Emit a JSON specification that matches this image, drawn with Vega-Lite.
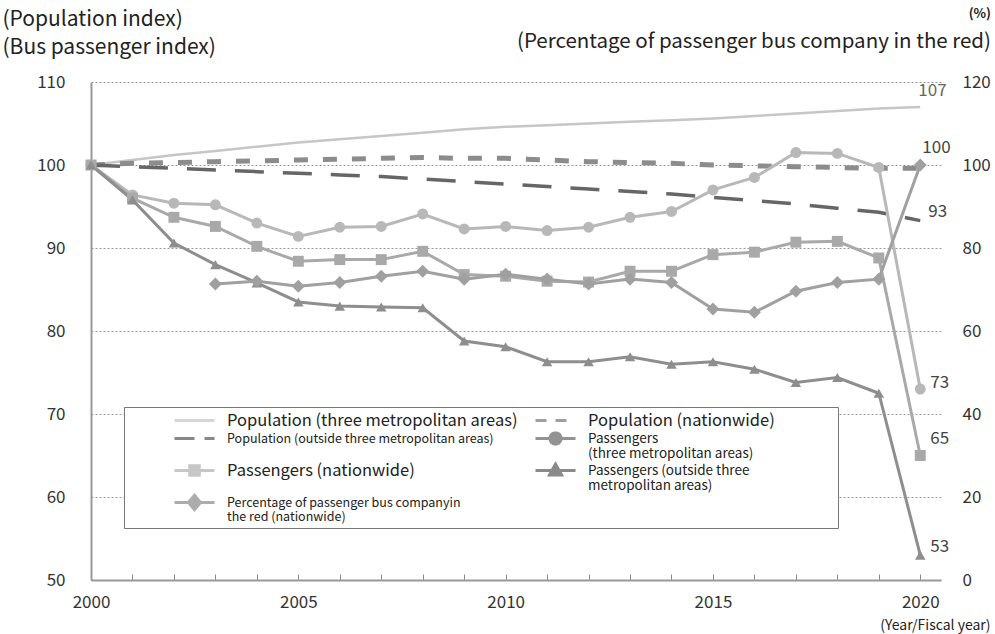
{
  "$schema": "https://vega.github.io/schema/vega-lite/v6.json",
  "width": 850,
  "height": 498,
  "autosize": {"type": "none"},
  "padding": {"left": 91, "top": 82, "right": 54, "bottom": 54},
  "background": "white",
  "config": {
    "font": "Noto Sans CJK JP",
    "view": {"stroke": null},
    "axis": {"labelFont": "Noto Sans CJK JP", "titleFont": "Noto Sans CJK JP", "labelColor": "#333", "titleColor": "#222", "labelFontSize": 17, "titleFontWeight": "normal"},
    "legend": {"labelFont": "Noto Sans CJK JP", "symbolFillColor": "#999999"}
  },
  "title": {
    "text": "(%)",
    "subtitle": "(Percentage of passenger bus company in the red)",
    "anchor": "end",
    "frame": "group",
    "fontSize": 13,
    "fontWeight": "bold",
    "font": "Noto Sans CJK JP",
    "subtitleFont": "Noto Sans CJK JP",
    "subtitleFontSize": 20.5,
    "color": "#222",
    "subtitleColor": "#222",
    "subtitlePadding": 11,
    "dx": 50,
    "dy": 48,
    "offset": 4
  },
  "datasets": {
    "main": [
      {"year": 2000, "series": "Population (three metropolitan areas)", "value": 100},
      {"year": 2001, "series": "Population (three metropolitan areas)", "value": 100.6},
      {"year": 2002, "series": "Population (three metropolitan areas)", "value": 101.2},
      {"year": 2003, "series": "Population (three metropolitan areas)", "value": 101.7},
      {"year": 2004, "series": "Population (three metropolitan areas)", "value": 102.2},
      {"year": 2005, "series": "Population (three metropolitan areas)", "value": 102.7},
      {"year": 2006, "series": "Population (three metropolitan areas)", "value": 103.1},
      {"year": 2007, "series": "Population (three metropolitan areas)", "value": 103.5},
      {"year": 2008, "series": "Population (three metropolitan areas)", "value": 103.9},
      {"year": 2009, "series": "Population (three metropolitan areas)", "value": 104.3},
      {"year": 2010, "series": "Population (three metropolitan areas)", "value": 104.6},
      {"year": 2011, "series": "Population (three metropolitan areas)", "value": 104.8},
      {"year": 2012, "series": "Population (three metropolitan areas)", "value": 105.0},
      {"year": 2013, "series": "Population (three metropolitan areas)", "value": 105.2},
      {"year": 2014, "series": "Population (three metropolitan areas)", "value": 105.4},
      {"year": 2015, "series": "Population (three metropolitan areas)", "value": 105.6},
      {"year": 2016, "series": "Population (three metropolitan areas)", "value": 105.9},
      {"year": 2017, "series": "Population (three metropolitan areas)", "value": 106.2},
      {"year": 2018, "series": "Population (three metropolitan areas)", "value": 106.5},
      {"year": 2019, "series": "Population (three metropolitan areas)", "value": 106.8},
      {"year": 2020, "series": "Population (three metropolitan areas)", "value": 107.0},
      {"year": 2000, "series": "Population (nationwide)", "value": 100},
      {"year": 2001, "series": "Population (nationwide)", "value": 100.2},
      {"year": 2002, "series": "Population (nationwide)", "value": 100.3},
      {"year": 2003, "series": "Population (nationwide)", "value": 100.4},
      {"year": 2004, "series": "Population (nationwide)", "value": 100.5},
      {"year": 2005, "series": "Population (nationwide)", "value": 100.6},
      {"year": 2006, "series": "Population (nationwide)", "value": 100.7},
      {"year": 2007, "series": "Population (nationwide)", "value": 100.8},
      {"year": 2008, "series": "Population (nationwide)", "value": 100.9},
      {"year": 2009, "series": "Population (nationwide)", "value": 100.8},
      {"year": 2010, "series": "Population (nationwide)", "value": 100.8},
      {"year": 2011, "series": "Population (nationwide)", "value": 100.6},
      {"year": 2012, "series": "Population (nationwide)", "value": 100.4},
      {"year": 2013, "series": "Population (nationwide)", "value": 100.3},
      {"year": 2014, "series": "Population (nationwide)", "value": 100.2},
      {"year": 2015, "series": "Population (nationwide)", "value": 100.0},
      {"year": 2016, "series": "Population (nationwide)", "value": 99.9},
      {"year": 2017, "series": "Population (nationwide)", "value": 99.8},
      {"year": 2018, "series": "Population (nationwide)", "value": 99.7},
      {"year": 2019, "series": "Population (nationwide)", "value": 99.6},
      {"year": 2020, "series": "Population (nationwide)", "value": 99.6},
      {"year": 2000, "series": "Population (outside three metropolitan areas)", "value": 100},
      {"year": 2001, "series": "Population (outside three metropolitan areas)", "value": 99.8},
      {"year": 2002, "series": "Population (outside three metropolitan areas)", "value": 99.6},
      {"year": 2003, "series": "Population (outside three metropolitan areas)", "value": 99.4},
      {"year": 2004, "series": "Population (outside three metropolitan areas)", "value": 99.2},
      {"year": 2005, "series": "Population (outside three metropolitan areas)", "value": 99.0},
      {"year": 2006, "series": "Population (outside three metropolitan areas)", "value": 98.8},
      {"year": 2007, "series": "Population (outside three metropolitan areas)", "value": 98.6},
      {"year": 2008, "series": "Population (outside three metropolitan areas)", "value": 98.3},
      {"year": 2009, "series": "Population (outside three metropolitan areas)", "value": 98.0},
      {"year": 2010, "series": "Population (outside three metropolitan areas)", "value": 97.7},
      {"year": 2011, "series": "Population (outside three metropolitan areas)", "value": 97.4},
      {"year": 2012, "series": "Population (outside three metropolitan areas)", "value": 97.1},
      {"year": 2013, "series": "Population (outside three metropolitan areas)", "value": 96.8},
      {"year": 2014, "series": "Population (outside three metropolitan areas)", "value": 96.5},
      {"year": 2015, "series": "Population (outside three metropolitan areas)", "value": 96.1},
      {"year": 2016, "series": "Population (outside three metropolitan areas)", "value": 95.7},
      {"year": 2017, "series": "Population (outside three metropolitan areas)", "value": 95.3},
      {"year": 2018, "series": "Population (outside three metropolitan areas)", "value": 94.8},
      {"year": 2019, "series": "Population (outside three metropolitan areas)", "value": 94.3},
      {"year": 2020, "series": "Population (outside three metropolitan areas)", "value": 93.3},
      {"year": 2000, "series": "Passengers (three metropolitan areas)", "value": 100},
      {"year": 2001, "series": "Passengers (three metropolitan areas)", "value": 96.4},
      {"year": 2002, "series": "Passengers (three metropolitan areas)", "value": 95.4},
      {"year": 2003, "series": "Passengers (three metropolitan areas)", "value": 95.2},
      {"year": 2004, "series": "Passengers (three metropolitan areas)", "value": 93.0},
      {"year": 2005, "series": "Passengers (three metropolitan areas)", "value": 91.4},
      {"year": 2006, "series": "Passengers (three metropolitan areas)", "value": 92.5},
      {"year": 2007, "series": "Passengers (three metropolitan areas)", "value": 92.6},
      {"year": 2008, "series": "Passengers (three metropolitan areas)", "value": 94.1},
      {"year": 2009, "series": "Passengers (three metropolitan areas)", "value": 92.3},
      {"year": 2010, "series": "Passengers (three metropolitan areas)", "value": 92.6},
      {"year": 2011, "series": "Passengers (three metropolitan areas)", "value": 92.1},
      {"year": 2012, "series": "Passengers (three metropolitan areas)", "value": 92.5},
      {"year": 2013, "series": "Passengers (three metropolitan areas)", "value": 93.7},
      {"year": 2014, "series": "Passengers (three metropolitan areas)", "value": 94.4},
      {"year": 2015, "series": "Passengers (three metropolitan areas)", "value": 97.0},
      {"year": 2016, "series": "Passengers (three metropolitan areas)", "value": 98.5},
      {"year": 2017, "series": "Passengers (three metropolitan areas)", "value": 101.5},
      {"year": 2018, "series": "Passengers (three metropolitan areas)", "value": 101.4},
      {"year": 2019, "series": "Passengers (three metropolitan areas)", "value": 99.7},
      {"year": 2020, "series": "Passengers (three metropolitan areas)", "value": 73},
      {"year": 2000, "series": "Passengers (nationwide)", "value": 100},
      {"year": 2001, "series": "Passengers (nationwide)", "value": 96.0},
      {"year": 2002, "series": "Passengers (nationwide)", "value": 93.7},
      {"year": 2003, "series": "Passengers (nationwide)", "value": 92.6},
      {"year": 2004, "series": "Passengers (nationwide)", "value": 90.2},
      {"year": 2005, "series": "Passengers (nationwide)", "value": 88.4},
      {"year": 2006, "series": "Passengers (nationwide)", "value": 88.6},
      {"year": 2007, "series": "Passengers (nationwide)", "value": 88.6},
      {"year": 2008, "series": "Passengers (nationwide)", "value": 89.6},
      {"year": 2009, "series": "Passengers (nationwide)", "value": 86.8},
      {"year": 2010, "series": "Passengers (nationwide)", "value": 86.6},
      {"year": 2011, "series": "Passengers (nationwide)", "value": 86.0},
      {"year": 2012, "series": "Passengers (nationwide)", "value": 85.9},
      {"year": 2013, "series": "Passengers (nationwide)", "value": 87.2},
      {"year": 2014, "series": "Passengers (nationwide)", "value": 87.2},
      {"year": 2015, "series": "Passengers (nationwide)", "value": 89.2},
      {"year": 2016, "series": "Passengers (nationwide)", "value": 89.5},
      {"year": 2017, "series": "Passengers (nationwide)", "value": 90.7},
      {"year": 2018, "series": "Passengers (nationwide)", "value": 90.8},
      {"year": 2019, "series": "Passengers (nationwide)", "value": 88.8},
      {"year": 2020, "series": "Passengers (nationwide)", "value": 65},
      {"year": 2000, "series": "Passengers (outside three metropolitan areas)", "value": 100},
      {"year": 2001, "series": "Passengers (outside three metropolitan areas)", "value": 95.8},
      {"year": 2002, "series": "Passengers (outside three metropolitan areas)", "value": 90.6},
      {"year": 2003, "series": "Passengers (outside three metropolitan areas)", "value": 88.0},
      {"year": 2004, "series": "Passengers (outside three metropolitan areas)", "value": 85.8},
      {"year": 2005, "series": "Passengers (outside three metropolitan areas)", "value": 83.5},
      {"year": 2006, "series": "Passengers (outside three metropolitan areas)", "value": 83.0},
      {"year": 2007, "series": "Passengers (outside three metropolitan areas)", "value": 82.9},
      {"year": 2008, "series": "Passengers (outside three metropolitan areas)", "value": 82.8},
      {"year": 2009, "series": "Passengers (outside three metropolitan areas)", "value": 78.8},
      {"year": 2010, "series": "Passengers (outside three metropolitan areas)", "value": 78.1},
      {"year": 2011, "series": "Passengers (outside three metropolitan areas)", "value": 76.3},
      {"year": 2012, "series": "Passengers (outside three metropolitan areas)", "value": 76.3},
      {"year": 2013, "series": "Passengers (outside three metropolitan areas)", "value": 76.9},
      {"year": 2014, "series": "Passengers (outside three metropolitan areas)", "value": 76.0},
      {"year": 2015, "series": "Passengers (outside three metropolitan areas)", "value": 76.3},
      {"year": 2016, "series": "Passengers (outside three metropolitan areas)", "value": 75.4},
      {"year": 2017, "series": "Passengers (outside three metropolitan areas)", "value": 73.8},
      {"year": 2018, "series": "Passengers (outside three metropolitan areas)", "value": 74.4},
      {"year": 2019, "series": "Passengers (outside three metropolitan areas)", "value": 72.5},
      {"year": 2020, "series": "Passengers (outside three metropolitan areas)", "value": 53},
      {"year": 2003, "series": "Percentage of passenger bus companyin the red (nationwide)", "value": 71.3},
      {"year": 2004, "series": "Percentage of passenger bus companyin the red (nationwide)", "value": 72.0},
      {"year": 2005, "series": "Percentage of passenger bus companyin the red (nationwide)", "value": 70.8},
      {"year": 2006, "series": "Percentage of passenger bus companyin the red (nationwide)", "value": 71.7},
      {"year": 2007, "series": "Percentage of passenger bus companyin the red (nationwide)", "value": 73.2},
      {"year": 2008, "series": "Percentage of passenger bus companyin the red (nationwide)", "value": 74.4},
      {"year": 2009, "series": "Percentage of passenger bus companyin the red (nationwide)", "value": 72.5},
      {"year": 2010, "series": "Percentage of passenger bus companyin the red (nationwide)", "value": 73.7},
      {"year": 2011, "series": "Percentage of passenger bus companyin the red (nationwide)", "value": 72.5},
      {"year": 2012, "series": "Percentage of passenger bus companyin the red (nationwide)", "value": 71.3},
      {"year": 2013, "series": "Percentage of passenger bus companyin the red (nationwide)", "value": 72.5},
      {"year": 2014, "series": "Percentage of passenger bus companyin the red (nationwide)", "value": 71.7},
      {"year": 2015, "series": "Percentage of passenger bus companyin the red (nationwide)", "value": 65.3},
      {"year": 2016, "series": "Percentage of passenger bus companyin the red (nationwide)", "value": 64.5},
      {"year": 2017, "series": "Percentage of passenger bus companyin the red (nationwide)", "value": 69.6},
      {"year": 2018, "series": "Percentage of passenger bus companyin the red (nationwide)", "value": 71.7},
      {"year": 2019, "series": "Percentage of passenger bus companyin the red (nationwide)", "value": 72.5},
      {"year": 2020, "series": "Percentage of passenger bus companyin the red (nationwide)", "value": 100}
    ],
    "legendRows": [
      {"series": "Population (three metropolitan areas)"},
      {"series": "Population (outside three metropolitan areas)"},
      {"series": "Passengers (nationwide)"},
      {"series": "Percentage of passenger bus companyin the red (nationwide)"},
      {"series": "Population (nationwide)"},
      {"series": "Passengers (three metropolitan areas)"},
      {"series": "Passengers (outside three metropolitan areas)"}
    ]
  },
  "data": {"name": "main"},
  "encoding": {
    "x": {
      "field": "year",
      "type": "quantitative",
      "scale": {"domain": [2000, 2020.5], "nice": false, "zero": false},
      "axis": {
        "values": [2000, 2001, 2002, 2003, 2004, 2005, 2006, 2007, 2008, 2009, 2010, 2011, 2012, 2013, 2014, 2015, 2016, 2017, 2018, 2019, 2020],
        "format": "d",
        "labelExpr": "datum.value % 5 === 0 ? datum.label : ''",
        "labelOverlap": false,
        "labelFlush": false,
        "grid": false,
        "domainColor": "#999",
        "domainWidth": 2,
        "tickColor": "#888",
        "tickSize": -6,
        "tickWidth": 1,
        "labelPadding": 20,
        "labelFontSize": 17,
        "title": "(Year/Fiscal year)",
        "titleFontSize": 14,
        "titleAlign": "right",
        "titleAnchor": "end",
        "titleBaseline": "alphabetic",
        "titleX": 899,
        "titleY": 49
      }
    }
  },
  "layer": [
    {
      "encoding": {
        "y": {
          "field": "value",
          "type": "quantitative",
          "scale": {"domain": [50, 110], "nice": false, "zero": false},
          "axis": {
            "values": [50, 60, 70, 80, 90, 100, 110],
            "grid": true,
            "gridDash": [2, 2],
            "gridColor": "#999",
            "gridWidth": 1.2,
            "domainColor": "#999",
            "domainWidth": 2,
            "ticks": false,
            "labelAlign": "right",
            "labelPadding": 26,
            "labelFontSize": 17,
            "title": ["(Population index)", "(Bus passenger index)"],
            "titleFontSize": 21,
            "titleAngle": 0,
            "titleAlign": "left",
            "titleBaseline": "alphabetic",
            "titleLineHeight": 28,
            "titleX": -89,
            "titleY": -57
          }
        }
      },
      "layer": [
        {
          "transform": [{"filter": "datum.series == 'Population (three metropolitan areas)'"}],
          "mark": {"type": "line", "strokeWidth": 2.5},
          "encoding": {
            "color": {
              "field": "series",
              "type": "nominal",
              "legend": null,
              "scale": {
                "domain": ["Percentage of passenger bus companyin the red (nationwide)", "Population (three metropolitan areas)", "Population (nationwide)", "Population (outside three metropolitan areas)", "Passengers (three metropolitan areas)", "Passengers (nationwide)", "Passengers (outside three metropolitan areas)"],
                "range": ["#a0a0a0", "#c6c6c6", "#8c8c8c", "#666666", "#b8b8b8", "#a9a9a9", "#8e8e8e"]
              }
            }
          }
        },
        {
          "transform": [{"filter": "datum.series == 'Population (nationwide)'"}],
          "mark": {"type": "line", "strokeWidth": 5, "strokeDash": [14, 15]},
          "encoding": {"color": {"field": "series", "type": "nominal", "legend": null}}
        },
        {
          "transform": [{"filter": "datum.series == 'Population (outside three metropolitan areas)'"}],
          "mark": {"type": "line", "strokeWidth": 3.5, "strokeDash": [29, 19]},
          "encoding": {"color": {"field": "series", "type": "nominal", "legend": null}}
        },
        {
          "transform": [{"filter": "datum.series == 'Passengers (three metropolitan areas)' || datum.series == 'Passengers (nationwide)' || datum.series == 'Passengers (outside three metropolitan areas)'"}],
          "mark": {"type": "line", "strokeWidth": 3},
          "encoding": {"color": {"field": "series", "type": "nominal", "legend": null}}
        },
        {
          "transform": [{"filter": "datum.series == 'Passengers (three metropolitan areas)'"}],
          "mark": {"type": "point", "shape": "circle", "filled": true, "size": 120, "opacity": 1},
          "encoding": {"color": {"field": "series", "type": "nominal", "legend": null}}
        },
        {
          "transform": [{"filter": "datum.series == 'Passengers (nationwide)'"}],
          "mark": {"type": "point", "shape": "square", "filled": true, "size": 120, "opacity": 1},
          "encoding": {"color": {"field": "series", "type": "nominal", "legend": null}}
        },
        {
          "transform": [{"filter": "datum.series == 'Passengers (outside three metropolitan areas)'"}],
          "mark": {"type": "point", "shape": "triangle-up", "filled": true, "size": 110, "opacity": 1},
          "encoding": {"color": {"field": "series", "type": "nominal", "legend": null}}
        },
        {
          "transform": [{"filter": "datum.year == 2020 && datum.series == 'Population (three metropolitan areas)'"}],
          "mark": {"type": "text", "align": "left", "baseline": "middle", "dx": -2, "dy": -16, "fontSize": 17, "color": "#666"},
          "encoding": {"text": {"field": "value", "type": "quantitative", "format": ".0f"}}
        },
        {
          "transform": [{"filter": "datum.year == 2020 && datum.series == 'Population (outside three metropolitan areas)'"}],
          "mark": {"type": "text", "align": "left", "baseline": "middle", "dx": 8, "dy": -9, "fontSize": 17, "color": "#444"},
          "encoding": {"text": {"field": "value", "type": "quantitative", "format": ".0f"}}
        },
        {
          "transform": [{"filter": "datum.year == 2020 && datum.series == 'Passengers (three metropolitan areas)'"}],
          "mark": {"type": "text", "align": "left", "baseline": "middle", "dx": 10, "dy": -6, "fontSize": 17, "color": "#444"},
          "encoding": {"text": {"field": "value", "type": "quantitative", "format": ".0f"}}
        },
        {
          "transform": [{"filter": "datum.year == 2020 && datum.series == 'Passengers (nationwide)'"}],
          "mark": {"type": "text", "align": "left", "baseline": "middle", "dx": 10, "dy": -17, "fontSize": 17, "color": "#444"},
          "encoding": {"text": {"field": "value", "type": "quantitative", "format": ".0f"}}
        },
        {
          "transform": [{"filter": "datum.year == 2020 && datum.series == 'Passengers (outside three metropolitan areas)'"}],
          "mark": {"type": "text", "align": "left", "baseline": "middle", "dx": 10, "dy": -8, "fontSize": 17, "color": "#444"},
          "encoding": {"text": {"field": "value", "type": "quantitative", "format": ".0f"}}
        }
      ]
    },
    {
      "transform": [{"filter": "datum.series == 'Percentage of passenger bus companyin the red (nationwide)'"}],
      "encoding": {
        "y": {
          "field": "value",
          "type": "quantitative",
          "scale": {"domain": [0, 120], "nice": false, "zero": false},
          "axis": {
            "orient": "right",
            "values": [0, 20, 40, 60, 80, 100, 120],
            "grid": false,
            "domain": false,
            "ticks": false,
            "labelPadding": 21,
            "labelFontSize": 17,
            "title": null
          }
        }
      },
      "layer": [
        {
          "mark": {"type": "line", "strokeWidth": 3},
          "encoding": {"color": {"field": "series", "type": "nominal", "legend": null}}
        },
        {
          "mark": {"type": "point", "shape": "diamond", "filled": true, "size": 170, "opacity": 1},
          "encoding": {"color": {"field": "series", "type": "nominal", "legend": null}}
        },
        {
          "transform": [{"filter": "datum.year == 2020"}],
          "mark": {"type": "text", "align": "left", "baseline": "middle", "dx": 2, "dy": -17, "fontSize": 17, "color": "#444"},
          "encoding": {"text": {"field": "value", "type": "quantitative", "format": ".0f"}}
        }
      ]
    },
    {
      "data": {"name": "legendRows"},
      "mark": {"type": "point", "filled": true, "size": 256, "strokeWidth": 3},
      "encoding": {
        "fill": {
          "field": "series",
          "type": "nominal",
          "scale": {
            "domain": ["Population (three metropolitan areas)", "Population (outside three metropolitan areas)", "Passengers (nationwide)", "Percentage of passenger bus companyin the red (nationwide)", "Population (nationwide)", "Passengers (three metropolitan areas)", "Passengers (outside three metropolitan areas)"],
            "range": ["#c6c6c6", "#555555", "#b0b0b0", "#8a8a8a", "#777777", "#666666", "#5a5a5a"]
          },
          "legend": {
            "title": "\u00a0",
            "titleOrient": "left",
            "titlePadding": 29,
            "titleFontSize": 8,
            "orient": "none",
            "legendX": 33,
            "legendY": 325,
            "columns": 2,
            "padding": 4,
            "fillColor": "#ffffff",
            "strokeColor": "#777777",
            "symbolSize": 256,
            "symbolStrokeWidth": 3,
            "symbolOffset": 28,
            "labelOffset": 23,
            "labelLimit": 460,
            "labelColor": "#222",
            "labelFontSize": {"expr": "datum.value == 'Population (three metropolitan areas)' || datum.value == 'Population (nationwide)' || datum.value == 'Passengers (nationwide)' ? 16.5 : (datum.value == 'Population (outside three metropolitan areas)' || datum.value == 'Percentage of passenger bus companyin the red (nationwide)') ? 12.5 : 13.5"},
            "columnPadding": 0,
            "rowPadding": -4,
            "labelExpr": "datum.label == 'Passengers (three metropolitan areas)' ? ['Passengers', '(three metropolitan areas)'] : datum.label == 'Passengers (outside three metropolitan areas)' ? ['Passengers (outside three', 'metropolitan areas)'] : datum.label == 'Percentage of passenger bus companyin the red (nationwide)' ? ['Percentage of passenger bus companyin', 'the red (nationwide)'] : datum.label"
          }
        },
        "stroke": {
          "field": "series",
          "type": "nominal",
          "scale": {
            "domain": ["Population (three metropolitan areas)", "Population (outside three metropolitan areas)", "Passengers (nationwide)", "Percentage of passenger bus companyin the red (nationwide)", "Population (nationwide)", "Passengers (three metropolitan areas)", "Passengers (outside three metropolitan areas)"],
            "range": ["#c6c6c6", "#555555", "#b0b0b0", "#8a8a8a", "#777777", "#666666", "#5a5a5a"]
          }
        },
        "shape": {
          "field": "series",
          "type": "nominal",
          "scale": {
            "domain": ["Population (three metropolitan areas)", "Population (outside three metropolitan areas)", "Passengers (nationwide)", "Percentage of passenger bus companyin the red (nationwide)", "Population (nationwide)", "Passengers (three metropolitan areas)", "Passengers (outside three metropolitan areas)"],
            "range": ["M-2.5,0H2.5", "M-2.5,0H2.5", "M-2.5,0H2.5M-0.6,-0.6H0.6V0.6H-0.6Z", "M-2.5,0H2.5M0,-0.9L0.75,0L0,0.9L-0.75,0Z", "M-2.5,0H2.5M34,0", "M-2.5,0H2.5M-0.7,0A0.7,0.7,0,1,0,0.7,0A0.7,0.7,0,1,0,-0.7,0Z", "M-2.5,0H2.5M0,-0.8L0.75,0.55L-0.75,0.55Z"]
          }
        },
        "strokeDash": {
          "field": "series",
          "type": "nominal",
          "scale": {
            "domain": ["Population (three metropolitan areas)", "Population (outside three metropolitan areas)", "Passengers (nationwide)", "Percentage of passenger bus companyin the red (nationwide)", "Population (nationwide)", "Passengers (three metropolitan areas)", "Passengers (outside three metropolitan areas)"],
            "range": [[1, 0], [20, 10], [1, 0], [1, 0], [11, 9], [1, 0], [1, 0]]
          }
        }
      }
    }
  ],
  "resolve": {"scale": {"y": "independent"}}
}
